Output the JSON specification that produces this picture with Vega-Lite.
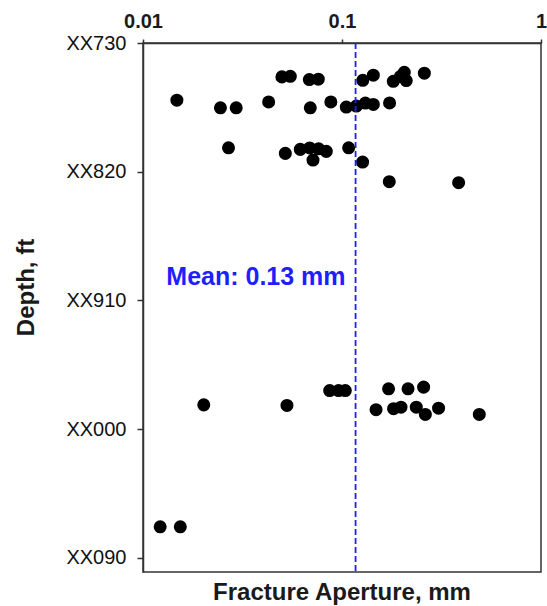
{
  "$schema": "https://vega.github.io/schema/vega-lite/v6.json",
  "description": "Fracture aperture vs depth with mean aperture line",
  "width": 398,
  "height": 529,
  "autosize": "none",
  "padding": {"left": 143, "top": 43, "right": 6, "bottom": 34},
  "background": "white",
  "title": {
    "text": "Fracture Aperture, mm",
    "orient": "bottom",
    "anchor": "middle",
    "frame": "group",
    "font": "Liberation Sans",
    "fontSize": 24,
    "fontWeight": "bold",
    "color": "#1a1a1a",
    "offset": 8
  },
  "config": {
    "view": {"stroke": "#333333", "strokeWidth": 1.5},
    "font": "Liberation Sans"
  },
  "datasets": {
    "fractures": [
      {"aperture": 0.0499, "depth": 753.7},
      {"aperture": 0.0550, "depth": 753.3},
      {"aperture": 0.0685, "depth": 755.6},
      {"aperture": 0.0760, "depth": 755.3},
      {"aperture": 0.1272, "depth": 756.1},
      {"aperture": 0.1437, "depth": 752.5},
      {"aperture": 0.1810, "depth": 756.8},
      {"aperture": 0.1963, "depth": 753.5},
      {"aperture": 0.2056, "depth": 750.5},
      {"aperture": 0.2103, "depth": 756.3},
      {"aperture": 0.2593, "depth": 751.1},
      {"aperture": 0.0148, "depth": 770.0},
      {"aperture": 0.0245, "depth": 775.3},
      {"aperture": 0.0294, "depth": 775.3},
      {"aperture": 0.0428, "depth": 771.2},
      {"aperture": 0.0693, "depth": 775.3},
      {"aperture": 0.0879, "depth": 771.2},
      {"aperture": 0.1051, "depth": 774.8},
      {"aperture": 0.1180, "depth": 774.1},
      {"aperture": 0.1310, "depth": 772.0},
      {"aperture": 0.1437, "depth": 773.0},
      {"aperture": 0.1734, "depth": 771.9},
      {"aperture": 0.0269, "depth": 803.3},
      {"aperture": 0.0519, "depth": 807.2},
      {"aperture": 0.0617, "depth": 804.4},
      {"aperture": 0.0688, "depth": 803.4},
      {"aperture": 0.0763, "depth": 804.0},
      {"aperture": 0.0834, "depth": 805.8},
      {"aperture": 0.0715, "depth": 811.9},
      {"aperture": 0.1080, "depth": 803.3},
      {"aperture": 0.1269, "depth": 813.3},
      {"aperture": 0.1728, "depth": 827.0},
      {"aperture": 0.3855, "depth": 827.7},
      {"aperture": 0.0202, "depth": 983.1},
      {"aperture": 0.0529, "depth": 983.5},
      {"aperture": 0.0867, "depth": 973.1},
      {"aperture": 0.0961, "depth": 973.1},
      {"aperture": 0.1039, "depth": 973.1},
      {"aperture": 0.1714, "depth": 971.9},
      {"aperture": 0.2147, "depth": 971.9},
      {"aperture": 0.2571, "depth": 970.7},
      {"aperture": 0.1483, "depth": 986.5},
      {"aperture": 0.1816, "depth": 985.8},
      {"aperture": 0.1979, "depth": 984.7},
      {"aperture": 0.2362, "depth": 984.7},
      {"aperture": 0.2623, "depth": 989.8},
      {"aperture": 0.3057, "depth": 985.4},
      {"aperture": 0.4897, "depth": 989.8},
      {"aperture": 0.0122, "depth": 1068.4},
      {"aperture": 0.0154, "depth": 1068.4}
    ]
  },
  "layer": [
    {
      "data": {"name": "fractures"},
      "mark": {"type": "point", "shape": "circle", "filled": true, "size": 170, "color": "#000000", "opacity": 1},
      "encoding": {
        "x": {
          "field": "aperture",
          "type": "quantitative",
          "scale": {"type": "log", "domain": [0.01, 1], "nice": false},
          "axis": {
            "orient": "top",
            "title": null,
            "values": [0.01, 0.1, 1],
            "format": "~g",
            "grid": false,
            "labelFont": "Liberation Sans",
            "labelFontSize": 20,
            "labelFontWeight": "bold",
            "labelColor": "#1a1a1a",
            "labelFlush": false,
            "labelBound": false,
            "labelOverlap": false,
            "labelPadding": 8,
            "tickSize": 4,
            "tickColor": "#333333",
            "tickWidth": 1.5,
            "domainColor": "#333333",
            "domainWidth": 1.5
          }
        },
        "y": {
          "field": "depth",
          "type": "quantitative",
          "scale": {"domain": [730, 1100], "reverse": true, "zero": false, "nice": false},
          "axis": {
            "title": "Depth, ft",
            "values": [730, 820, 910, 1000, 1090],
            "labelExpr": "'XX' + format(datum.value % 1000, '03d')",
            "grid": false,
            "labelFont": "Liberation Sans",
            "labelFontSize": 20,
            "labelColor": "#111111",
            "labelPadding": 11,
            "labelOverlap": false,
            "labelFlush": false,
            "tickSize": 6,
            "tickColor": "#333333",
            "tickWidth": 1.5,
            "domainColor": "#333333",
            "domainWidth": 1.5,
            "titleFont": "Liberation Sans",
            "titleFontSize": 24,
            "titleFontWeight": "bold",
            "titleColor": "#1a1a1a",
            "titleAngle": 270,
            "titleAlign": "center",
            "titleBaseline": "middle",
            "titleX": -117,
            "titleY": 244
          }
        }
      }
    },
    {
      "data": {"values": [{"aperture": 0.117}]},
      "mark": {"type": "rule", "color": "#1e1eff", "strokeWidth": 1.8, "strokeDash": [6, 3]},
      "encoding": {
        "x": {"field": "aperture", "type": "quantitative"}
      }
    },
    {
      "data": {"values": [{"aperture": 0.117, "depth": 894, "label": "Mean: 0.13 mm"}]},
      "mark": {
        "type": "text",
        "align": "right",
        "baseline": "middle",
        "dx": -10,
        "font": "Liberation Sans",
        "fontSize": 25,
        "fontWeight": "bold",
        "color": "#1e1eff"
      },
      "encoding": {
        "x": {"field": "aperture", "type": "quantitative"},
        "y": {"field": "depth", "type": "quantitative"},
        "text": {"field": "label"}
      }
    }
  ]
}
